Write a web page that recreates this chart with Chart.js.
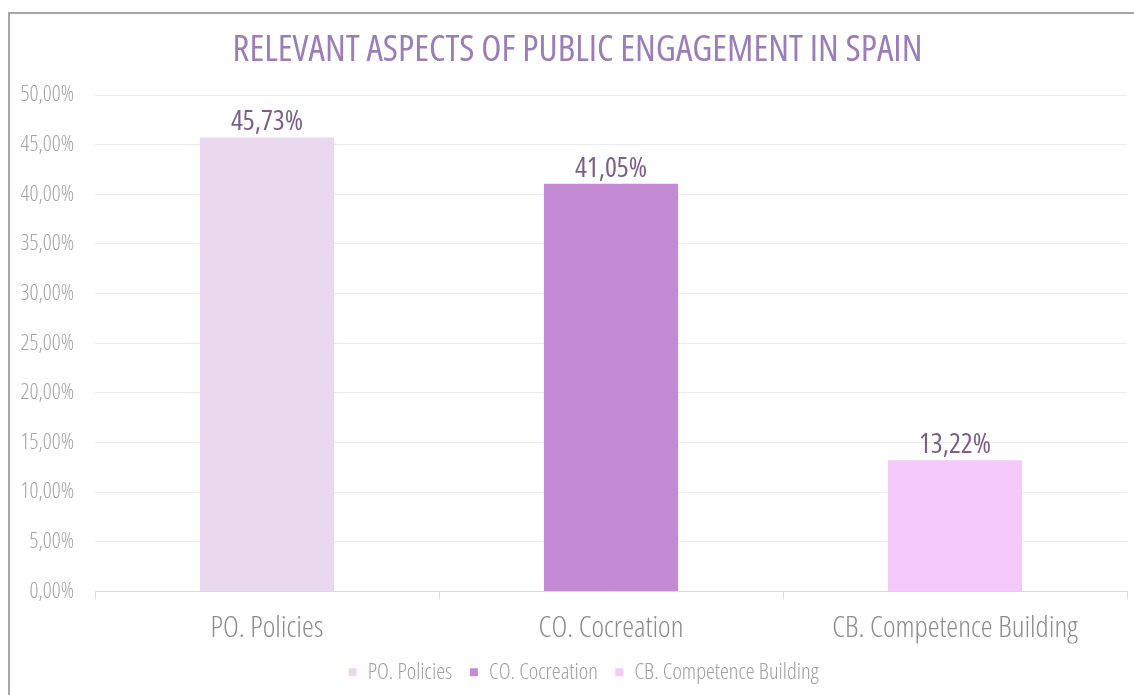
<!DOCTYPE html>
<html>
<head>
<meta charset="utf-8">
<script src="https://cdn.jsdelivr.net/npm/chart.js@4.4.1/dist/chart.umd.min.js"></script>
<style>
    html, body { margin: 0; padding: 0; background: #fff; }
    #wrap { position: relative; width: 1134px; height: 695px; overflow: hidden; }
    #frame { position: absolute; left: 8px; top: 12px; width: 1200px; height: 800px;
             border-left: 2px solid #a6a6a6; border-top: 2px solid #a6a6a6; }
    canvas { position: absolute; left: 0; top: 0; }
</style>
</head>
<body>
<div id="wrap">
    <div id="frame"></div>
    <canvas id="chart" width="1134" height="695"></canvas>
</div>
<script>
// Chart data
const categories = ['PO. Policies', 'CO. Cocreation', 'CB. Competence Building'];
const shares = [45.73, 41.05, 13.22];
const barColors = ['#e9d8ee', '#c48ad4', '#f5c9fb'];
const yTicks = [0, 5, 10, 15, 20, 25, 30, 35, 40, 45, 50];

// Open Sans has a width axis, "condensed" in the weight slot narrows it
const FONT = "'Open Sans', sans-serif";

function fmtPct(v) {
    return v.toFixed(2).replace('.', ',') + '%';
}

// Value labels above each bar
const barLabels = {
    id: 'barLabels',
    afterLayout(chart) {
        // title and legend sit a bit right of the canvas centre in the original
        chart.titleBlock.left += 28;
        chart.legend.left += 40;
    },
    afterDatasetsDraw(chart) {
        const ctx = chart.ctx;
        const meta = chart.getDatasetMeta(0);
        ctx.save();
        ctx.font = '400 condensed 28px ' + FONT;
        ctx.fillStyle = '#7b5e88';
        ctx.textAlign = 'center';
        ctx.textBaseline = 'bottom';
        meta.data.forEach(function(bar, i) {
            ctx.fillText(fmtPct(shares[i]), bar.x, bar.y - 1);
        });
        ctx.restore();
    }
};

new Chart(document.getElementById('chart'), {
    type: 'bar',
    data: {
        labels: categories,
        datasets: [{
            data: shares,
            backgroundColor: barColors,
            borderWidth: 0,
            categoryPercentage: 1,
            barPercentage: 0.39
        }]
    },
    options: {
        responsive: false,
        animation: false,
        layout: { padding: { left: 0, right: 7, top: 0, bottom: 1.5 } },
        plugins: {
            title: {
                display: true,
                text: 'RELEVANT ASPECTS OF PUBLIC ENGAGEMENT IN SPAIN',
                color: '#9b7db7',
                font: { family: FONT, size: 37, weight: '500 condensed' },
                padding: { top: 27.8, bottom: 22.8 }
            },
            legend: {
                position: 'bottom',
                labels: {
                    color: '#a0a0a0',
                    font: { family: FONT, size: 22.5, weight: '300 condensed' },
                    boxWidth: 8,
                    boxHeight: 8,
                    padding: 17.5,
                    generateLabels: function() {
                        return categories.map(function(c, i) {
                            return { text: c, fillStyle: barColors[i], strokeStyle: barColors[i],
                                     fontColor: '#a0a0a0', lineWidth: 0, index: i };
                        });
                    }
                }
            },
            tooltip: { enabled: false }
        },
        scales: {
            x: {
                afterFit: function(scale) { scale.height = 52; },
                grid: { drawOnChartArea: false, drawTicks: true, tickLength: 8, color: '#d9d9d9' },
                border: { display: true, color: '#d9d9d9' },
                ticks: {
                    color: '#8c8c8c',
                    font: { family: FONT, size: 30, weight: '300 condensed', lineHeight: 1 },
                    padding: 14
                }
            },
            y: {
                min: 0,
                max: 50,
                afterBuildTicks: function(scale) {
                    scale.ticks = yTicks.map(function(v) { return { value: v }; });
                },
                afterFit: function(scale) { scale.width = 95; },
                grid: { color: '#ececec', drawTicks: false },
                border: { display: false },
                ticks: {
                    color: '#a3a3a3',
                    font: { family: FONT, size: 22, weight: '300 condensed' },
                    padding: 21,
                    callback: function(v) { return fmtPct(v); }
                }
            }
        }
    },
    plugins: [barLabels]
});
</script>
</body>
</html>
